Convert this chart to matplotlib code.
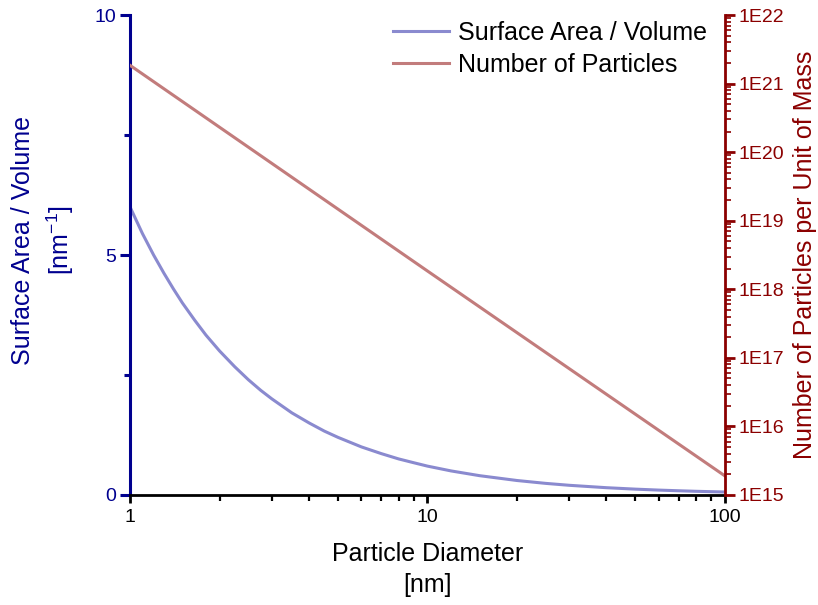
import math
import matplotlib
matplotlib.use("Agg")
import matplotlib.pyplot as plt
from matplotlib.ticker import FixedLocator, LogLocator, FuncFormatter, NullFormatter

plt.rcParams['font.family'] = ['Liberation Sans', 'DejaVu Sans']
plt.rcParams['mathtext.fontset'] = 'custom'
plt.rcParams['mathtext.rm'] = 'Liberation Sans'
plt.rcParams['mathtext.it'] = 'Liberation Sans'
plt.rcParams['mathtext.default'] = 'regular'

diameter = [1, 1.1, 1.2, 1.3, 1.4, 1.5, 1.65, 1.8, 2, 2.25, 2.5, 2.75, 3, 3.5, 4, 4.5, 5, 6, 7, 8, 9, 10,
            12, 15, 20, 25, 30, 40, 50, 60, 70, 80, 90, 100]
sa_vol = [6.0, 5.45, 5.0, 4.62, 4.29, 4.0, 3.64, 3.33, 3.0, 2.67, 2.4, 2.18, 2.0, 1.71, 1.5, 1.33, 1.2,
          1.0, 0.86, 0.75, 0.67, 0.6, 0.5, 0.4, 0.3, 0.24, 0.2, 0.15, 0.12, 0.1, 0.086, 0.075, 0.067, 0.06]
n_diameter = [1, 10, 100]
n_particles = [1.85e21, 1.85e18, 1.9e15]

navy = '#00008f'
dred = '#8B0000'
blue_line = '#8a8acf'
red_line = '#c27c7c'

fig = plt.figure(figsize=(8.18, 6.05), dpi=100)
ax = fig.add_axes([0.159, 0.182, 0.727, 0.793])
ax2 = ax.twinx()

l1, = ax.plot(diameter, sa_vol, color=blue_line, lw=2.2, label='Surface Area / Volume')
l2, = ax2.plot(n_diameter, n_particles, color=red_line, lw=2.2, label='Number of Particles')

ax.set_xscale('log')
ax.set_xlim(1, 100)
ax.set_ylim(0, 10)
ax2.set_yscale('log')
ax2.set_ylim(1e15, 1e22)

for a in (ax, ax2):
    a.spines['top'].set_visible(False)
ax.spines['right'].set_visible(False)
ax2.spines['left'].set_visible(False)
ax2.spines['bottom'].set_visible(False)

ax.spines['left'].set_color(navy)
ax.spines['left'].set_linewidth(2.2)
ax.spines['bottom'].set_color('black')
ax.spines['bottom'].set_linewidth(2.0)
ax2.spines['right'].set_color(dred)
ax2.spines['right'].set_linewidth(2.0)

ax.yaxis.set_major_locator(FixedLocator([0, 5, 10]))
ax.yaxis.set_minor_locator(FixedLocator([2.5, 7.5]))
ax.tick_params(axis='y', which='major', colors=navy, length=7, width=2.2, labelsize=14, direction='out', pad=3)
ax.tick_params(axis='y', which='minor', colors=navy, length=4, width=2.2, direction='out')
ax.tick_params(axis='x', which='major', colors='black', length=6, width=2.0, labelsize=14, direction='out', pad=4)
ax.tick_params(axis='x', which='minor', colors='black', length=4, width=1.6, direction='out')
ax.xaxis.set_major_formatter(FuncFormatter(lambda v, p: f'{v:g}'))
ax.xaxis.set_minor_formatter(NullFormatter())

ax2.yaxis.set_major_locator(LogLocator(base=10, numticks=20))
ax2.yaxis.set_minor_locator(LogLocator(base=10, subs=range(2, 10), numticks=20))
ax2.yaxis.set_major_formatter(FuncFormatter(lambda v, p: f'1E{int(round(math.log10(v)))}'))
ax2.yaxis.set_minor_formatter(NullFormatter())
ax2.tick_params(axis='y', which='major', colors=dred, length=7, width=2.0, labelsize=14, direction='out', pad=3)
ax2.tick_params(axis='y', which='minor', colors=dred, length=4, width=1.2, direction='out')

ax.set_xlabel('Particle Diameter\n[nm]', fontsize=18, color='black', labelpad=12, linespacing=1.35)
ax.set_ylabel('Surface Area / Volume\n[nm$^{-1}$]', fontsize=18, color=navy, linespacing=1.4)
ax.yaxis.set_label_coords(-0.091, 0.53)
ax2.set_ylabel('Number of Particles per Unit of Mass', fontsize=18, color=dred, labelpad=6)

ax.patch.set_visible(False)
leg = ax2.legend([l1, l2], ['Surface Area / Volume', 'Number of Particles'], loc='upper right',
                 bbox_to_anchor=(0.995, 1.02), frameon=False, fontsize=18, handlelength=2.25,
                 handletextpad=0.35, labelspacing=0.32, borderaxespad=0.2)

fig.savefig('out.png', dpi=100)
